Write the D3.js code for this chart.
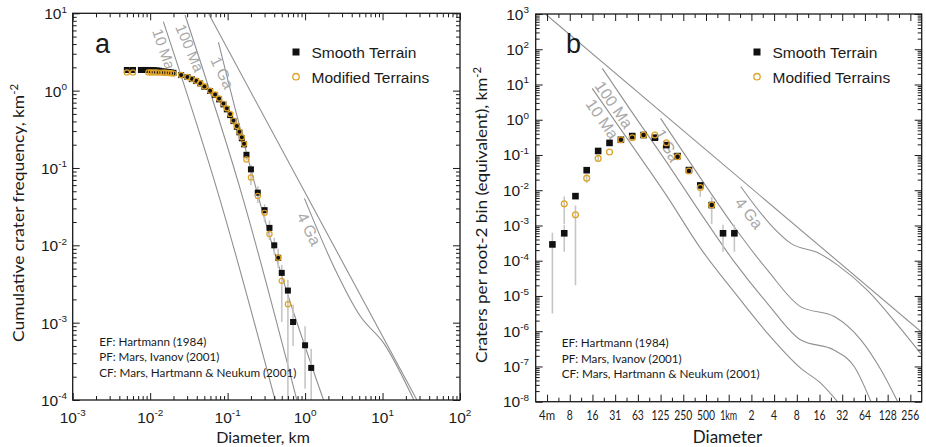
<!DOCTYPE html>
<html>
<head>
<meta charset="utf-8">
<script src="https://cdn.jsdelivr.net/npm/d3@7"></script>
<style>
  html, body { margin: 0; padding: 0; background: #fff; }
  svg { display: block; font-family: Lato, "Open Sans", sans-serif; }
  .hv { font-family: "Liberation Sans", Arial, sans-serif; }
</style>
</head>
<body>
<svg id="chart" width="926" height="447"></svg>
<script>
// ---------- Panel a: cumulative crater frequency (diameter in km, N per km²) ----------
const smoothCum = [
  [0.005,1.85],[0.006,1.85],
  [0.0076,1.85],[0.0082,1.85],[0.0088,1.85],[0.0094,1.85],[0.0100,1.84],[0.0107,1.84],[0.0114,1.83],
  [0.0122,1.82],[0.0130,1.81],[0.0140,1.78],[0.0150,1.76],[0.0160,1.75],[0.0172,1.74],[0.0185,1.72],[0.0200,1.70],
  [0.0251,1.59],[0.0303,1.50],[0.0345,1.41],[0.0392,1.33],[0.0442,1.24],[0.0501,1.12],[0.0594,0.99],
  [0.0689,0.877],[0.0776,0.771],[0.0883,0.665],[0.0977,0.573],[0.1077,0.483],[0.119,0.404],[0.1315,0.341],
  [0.142,0.289],[0.1524,0.242],[0.163,0.202],[0.175,0.148],[0.200,0.096],[0.245,0.048],[0.300,0.0285],
  [0.347,0.0168],[0.400,0.0100],[0.450,0.0069],[0.500,0.0044],[0.600,0.0026],[0.700,0.00102],
  [1.00,0.00051],[1.20,0.00026]
];
const modifiedCum = [
  [0.005,1.72],[0.006,1.72],
  [0.0095,1.72],[0.0102,1.72],[0.0110,1.72],[0.0119,1.72],[0.0128,1.71],[0.0139,1.71],[0.0150,1.70],
  [0.0160,1.70],[0.0173,1.69],[0.0186,1.68],[0.0200,1.66],
  [0.0251,1.59],[0.0303,1.50],[0.0345,1.42],[0.0392,1.34],[0.0442,1.25],[0.0501,1.13],[0.0594,1.00],
  [0.0689,0.89],[0.0776,0.79],[0.0883,0.68],[0.0977,0.59],[0.1077,0.50],[0.119,0.41],[0.1315,0.35],
  [0.142,0.295],[0.1524,0.25],[0.163,0.205],[0.175,0.129],[0.200,0.0755],[0.245,0.0434],[0.300,0.0263],
  [0.347,0.0140],[0.450,0.0069],[0.500,0.00347],[0.600,0.00173]
];
// [diameter, lower, upper]
const smoothCumErr = [
  [0.175,0.125,0.165],[0.200,0.080,0.110],[0.245,0.038,0.058],[0.300,0.020,0.034],[0.347,0.0117,0.021],
  [0.400,0.0075,0.0125],[0.450,0.0051,0.0090],[0.500,0.00102,0.0056],[0.600,0.00003,0.0036],
  [0.700,0.00050,0.0017],[1.00,0.00014,0.00090],[1.20,0.00003,0.00046]
];
const modifiedCumErr = [
  [0.200,0.060,0.090],[0.245,0.035,0.052]
];
// isochrons and saturation, diameter km vs N
const satA     = [[0.0565,10],[27.8,1e-4]];
const iso10MaA = [[0.0148,7.8],[0.080,0.0385],[0.41,1e-4]];
const iso100MaA= [[0.0282,9.5],[0.160,0.0385],[0.783,1e-4]];
const iso1GaA  = [[0.076,4.25],[0.265,0.034],[1.73,1e-4]];
const iso4GaA  = [[0.98,0.0405],[2.35,0.0053],[5.2,0.0012],[10.4,0.00054],[25.4,1e-4]];
const xExpA = [-3,-2,-1,0,1,2];
const yExpA = [1,0,-1,-2,-3,-4];

// ---------- Panel b: craters per root-2 bin (diameter in m) ----------
const binCenters  = [4.6,6.6,9.3,13.1,18.6,26.3,37.2,52.6,74.3,105,149,210,297,420,595,841,1189];
const smoothBin   = [2.9e-4,6.0e-4,6.8e-3,0.037,0.13,0.22,0.27,0.344,0.368,0.309,0.191,0.093,0.0373,0.0137,0.0038,6.0e-4,6.0e-4];
const modifiedBin = [null,4.1e-3,2.0e-3,0.022,0.08,0.121,0.271,0.309,0.368,0.368,0.223,0.089,0.035,0.012,0.0038,null,null];
const smoothBinErr = [
  [3.2e-6,6.2e-4],[1.8e-4,1.05e-3],null,null,null,null,null,null,null,null,null,null,
  [0.030,0.045],[6.5e-3,0.016],[1.1e-3,6.5e-3],[1.8e-4,1.05e-3],[1.8e-4,1.05e-3]
];
const modifiedBinErr = [
  null,[1.1e-3,6.6e-3],[2.0e-5,3.7e-3],[0.016,0.028],[0.065,0.10],null,null,null,null,null,null,null,null,null,null,null,null
];
const satB      = [[3.72,1000],[374400,8.8e-7]];
const iso10MaB  = [[15.5,7.76],[50,0.213],[154,6.5e-3],[426,2.2e-4],[1181,1.3e-5],[3272,8.7e-7],[9070,8.8e-8],[16720,3.3e-8],[27840,9.9e-9]];
const iso100MaB = [[21.1,28.7],[50,1.88],[154,0.058],[426,2.2e-3],[1181,9.4e-5],[3272,6.1e-6],[9070,5.6e-7],[25140,2.9e-7],[46340,9.8e-8],[77100,9.9e-9]];
const iso1GaB   = [[125,1.09],[426,0.0217],[1181,9.2e-4],[3272,5.4e-5],[9070,4.9e-6],[25140,2.6e-6],[56800,5.6e-7],[104700,7.9e-8],[174400,9.9e-9]];
const iso4GaB   = [[1448,0.0126],[3625,1.03e-3],[6681,3.1e-4],[15890,1.61e-4],[27840,7.5e-5],[69640,1.41e-5],[174400,1.49e-6],[374400,1.96e-7]];
const binTicks  = [3.90625,7.8125,15.625,31.25,62.5,125,250,500,1000,2000,4000,8000,16000,32000,64000,128000,256000];
const binLabels = ["4m","8","16","31","63","125","250","500","1km","2","4","8","16","32","64","128","256"];
const yExpB = [3,2,1,0,-1,-2,-3,-4,-5,-6,-7,-8];

const sources = ["EF: Hartmann (1984)","PF: Mars, Ivanov (2001)","CF: Mars, Hartmann & Neukum (2001)"];
const seriesNames = ["Smooth Terrain","Modified Terrains"];

// ---------- styling ----------
const INK = "#1a1a1a", CURVE = "#909090", LABEL = "#a9a9a9", ERR = "#c6c6c6", ORANGE = "#dea327";
const svg = d3.select("#chart");
const defs = svg.append("defs");

function logMinors(lo, hi) {
  const out = [];
  for (let e = lo; e < hi; e++) for (let m = 2; m <= 9; m++) out.push(m * Math.pow(10, e));
  return out;
}

function frameTicks(g, xs, ys, box, xMaj, xMin, yMaj, yMin) {
  const mk = (fn, scale, vals, size, tr) => {
    const a = g.append("g").attr("transform", tr)
      .call(fn(scale).tickValues(vals).tickSize(-size).tickFormat(""));
    a.select(".domain").remove();
    a.selectAll("line").attr("stroke", INK).attr("stroke-width", 1);
  };
  mk(d3.axisBottom, xs, xMaj, 7, `translate(0,${box.b})`);
  mk(d3.axisBottom, xs, xMin, 4, `translate(0,${box.b})`);
  mk(d3.axisTop, xs, xMaj, 7, `translate(0,${box.t})`);
  mk(d3.axisTop, xs, xMin, 4, `translate(0,${box.t})`);
  mk(d3.axisLeft, ys, yMaj, 7, `translate(${box.l},0)`);
  mk(d3.axisLeft, ys, yMin, 4, `translate(${box.l},0)`);
  mk(d3.axisRight, ys, yMaj, 7, `translate(${box.r},0)`);
  mk(d3.axisRight, ys, yMin, 4, `translate(${box.r},0)`);
  g.append("rect").attr("x", box.l).attr("y", box.t)
    .attr("width", box.r - box.l).attr("height", box.b - box.t)
    .attr("fill", "none").attr("stroke", INK).attr("stroke-width", 1.3);
}

function powLabel(g, x, y, exp, anchor, size) {
  const t = g.append("text").attr("class", "hv").attr("x", x).attr("y", y).attr("text-anchor", anchor)
    .attr("font-size", size).attr("fill", INK);
  t.append("tspan").text("10");
  t.append("tspan").attr("dy", -size * 0.42).attr("font-size", size * 0.64).text(exp);
}

function curves(g, xs, ys, list, clipId) {
  const line = d3.line().x(d => xs(d[0])).y(d => ys(d[1])).curve(d3.curveMonotoneX);
  g.append("g").attr("clip-path", `url(#${clipId})`)
    .selectAll("path").data(list).join("path")
    .attr("d", line).attr("fill", "none").attr("stroke", CURVE).attr("stroke-width", 1.1);
}

function isoLabel(g, xs, ys, pos, angle, text, size) {
  g.append("text").attr("class", "hv")
    .attr("transform", `translate(${xs(pos[0])},${ys(pos[1])}) rotate(${angle})`)
    .attr("font-size", size).attr("fill", LABEL).text(text);
}

function legend(g, x, ySq, yCirc, size, r) {
  g.append("rect").attr("x", x - size / 2).attr("y", ySq - size / 2)
    .attr("width", size).attr("height", size).attr("fill", "#111");
  g.append("circle").attr("cx", x).attr("cy", yCirc).attr("r", r)
    .attr("fill", "none").attr("stroke", ORANGE).attr("stroke-width", 1.3);
  g.append("text").attr("class", "hv").attr("x", x + 15.5).attr("y", ySq + 5.5)
    .attr("font-size", 15.5).attr("fill", INK).text(seriesNames[0]);
  g.append("text").attr("class", "hv").attr("x", x + 15.5).attr("y", yCirc + 6)
    .attr("font-size", 15.5).attr("fill", INK).text(seriesNames[1]);
}

function sourceNotes(g, x, y0, widths) {
  sources.forEach((s, i) => {
    g.append("text").attr("x", x).attr("y", y0 + i * 15.5)
      .attr("font-size", 12).attr("fill", INK)
      .attr("textLength", widths[i]).attr("lengthAdjust", "spacingAndGlyphs").text(s);
  });
}

// =============== Panel a ===============
{
  const box = { l: 72.7, r: 460, t: 13.3, b: 400 };
  const xs = d3.scaleLog().domain([1e-3, 1e2]).range([box.l, box.r]);
  const ys = d3.scaleLog().domain([1e-4, 10]).range([box.b, box.t]);
  defs.append("clipPath").attr("id", "clipA").append("rect")
    .attr("x", box.l).attr("y", box.t).attr("width", box.r - box.l).attr("height", box.b - box.t);
  const g = svg.append("g");

  curves(g, xs, ys, [satA, iso10MaA, iso100MaA, iso1GaA, iso4GaA], "clipA");
  isoLabel(g, xs, ys, [0.01058, 5.9], 71, "10 Ma", 15);
  isoLabel(g, xs, ys, [0.0210, 6.65], 67, "100 Ma", 15);
  isoLabel(g, xs, ys, [0.0594, 2.49], 64, "1 Ga", 15.5);
  isoLabel(g, xs, ys, [0.767, 0.0239], 63, "4 Ga", 16);

  const pts = g.append("g").attr("clip-path", "url(#clipA)");
  pts.selectAll("line.es").data(smoothCumErr).join("line").attr("class", "es")
    .attr("x1", d => xs(d[0])).attr("x2", d => xs(d[0]))
    .attr("y1", d => ys(d[1])).attr("y2", d => ys(d[2]))
    .attr("stroke", ERR).attr("stroke-width", 1.6);
  pts.selectAll("line.em").data(modifiedCumErr).join("line").attr("class", "em")
    .attr("x1", d => xs(d[0])).attr("x2", d => xs(d[0]))
    .attr("y1", d => ys(d[1])).attr("y2", d => ys(d[2]))
    .attr("stroke", ERR).attr("stroke-width", 1.6);
  pts.selectAll("rect").data(smoothCum).join("rect")
    .attr("x", d => xs(d[0]) - 3).attr("y", d => ys(d[1]) - 3)
    .attr("width", 6).attr("height", 6).attr("fill", "#111");
  pts.selectAll("circle").data(modifiedCum).join("circle")
    .attr("cx", d => xs(d[0])).attr("cy", d => ys(d[1])).attr("r", 2.6)
    .attr("fill", "none").attr("stroke", ORANGE).attr("stroke-width", 1.2);

  frameTicks(g, xs, ys, box,
    xExpA.map(e => Math.pow(10, e)), logMinors(-3, 2),
    yExpA.map(e => Math.pow(10, e)), logMinors(-4, 1));

  xExpA.forEach(e => powLabel(g, xs(Math.pow(10, e)), 422.5, String(e), "middle", 15.5));
  yExpA.forEach(e => powLabel(g, 67, ys(Math.pow(10, e)) + 6, String(e), "end", 15.5));

  g.append("text").attr("x", 263).attr("y", 442.5).attr("text-anchor", "middle")
    .attr("font-size", 16).attr("fill", INK).text("Diameter, km");
  const yt = g.append("text").attr("transform", `translate(24,${213}) rotate(-90)`)
    .attr("text-anchor", "middle").attr("font-size", 16).attr("fill", INK)
    .attr("textLength", 258).attr("lengthAdjust", "spacingAndGlyphs");
  yt.append("tspan").text("Cumulative crater frequency, km");
  yt.append("tspan").attr("dy", -6).attr("font-size", 10.5).text("-2");

  g.append("text").attr("class", "hv").attr("x", 95).attr("y", 53).attr("font-size", 27).attr("fill", INK).text("a");
  legend(g, 296, 52, 76.7, 7, 3.2);
  sourceNotes(g, 99.3, 345.7, [107, 120, 197]);
}

// =============== Panel b ===============
{
  const box = { l: 535.7, r: 921.7, t: 14, b: 401.7 };
  const xs = d3.scaleLog().base(2).domain([1000 * Math.pow(2, -8.5), 1000 * Math.pow(2, 8.5)]).range([box.l, box.r]);
  const ys = d3.scaleLog().domain([1e-8, 1e3]).range([box.b, box.t]);
  defs.append("clipPath").attr("id", "clipB").append("rect")
    .attr("x", box.l).attr("y", box.t).attr("width", box.r - box.l).attr("height", box.b - box.t);
  const g = svg.append("g");

  curves(g, xs, ys, [satB, iso10MaB, iso100MaB, iso1GaB, iso4GaB], "clipB");
  isoLabel(g, xs, ys, [16.4, 9.06], 55, "100 Ma", 16);
  isoLabel(g, xs, ys, [12.4, 2.79], 55, "10 Ma", 16);
  isoLabel(g, xs, ys, [102, 0.42], 61, "1 Ga", 16);
  isoLabel(g, xs, ys, [1175, 4.34e-3], 52, "4 Ga", 16);

  const pts = g.append("g").attr("clip-path", "url(#clipB)");
  const errS = binCenters.map((d, i) => smoothBinErr[i] ? [d, ...smoothBinErr[i]] : null).filter(Boolean);
  const errM = binCenters.map((d, i) => modifiedBinErr[i] ? [d, ...modifiedBinErr[i]] : null).filter(Boolean);
  pts.selectAll("line.eb").data(errS.concat(errM)).join("line").attr("class", "eb")
    .attr("x1", d => xs(d[0])).attr("x2", d => xs(d[0]))
    .attr("y1", d => ys(d[1])).attr("y2", d => ys(d[2]))
    .attr("stroke", ERR).attr("stroke-width", 1.6);
  const sPts = binCenters.map((d, i) => [d, smoothBin[i]]).filter(d => d[1] != null);
  const mPts = binCenters.map((d, i) => [d, modifiedBin[i]]).filter(d => d[1] != null);
  pts.selectAll("rect").data(sPts).join("rect")
    .attr("x", d => xs(d[0]) - 3.3).attr("y", d => ys(d[1]) - 3.3)
    .attr("width", 6.6).attr("height", 6.6).attr("fill", "#111");
  pts.selectAll("circle").data(mPts).join("circle")
    .attr("cx", d => xs(d[0])).attr("cy", d => ys(d[1])).attr("r", 2.9)
    .attr("fill", "none").attr("stroke", ORANGE).attr("stroke-width", 1.3);

  const halfSteps = binTicks.slice(0, -1).map(v => v * Math.SQRT2);
  frameTicks(g, xs, ys, box, binTicks, halfSteps,
    yExpB.map(e => Math.pow(10, e)), logMinors(-8, 3));

  // narrow labels so neighbouring bins stay legible
  binTicks.forEach((v, i) => g.append("text").attr("x", xs(v)).attr("y", 419.5)
    .attr("text-anchor", "middle").attr("font-size", 13).attr("fill", INK)
    .attr("textLength", binLabels[i] === "1km" ? 17 : binLabels[i] === "4m" ? 16 : binLabels[i].length * 6)
    .attr("lengthAdjust", "spacingAndGlyphs").text(binLabels[i]));
  yExpB.forEach(e => powLabel(g, 529, ys(Math.pow(10, e)) + 5.5, String(e), "end", 15.5));

  g.append("text").attr("x", 727.5).attr("y", 442.5).attr("text-anchor", "middle")
    .attr("font-size", 17).attr("fill", INK).text("Diameter");
  const yt = g.append("text").attr("transform", `translate(487,${215}) rotate(-90)`)
    .attr("text-anchor", "middle").attr("font-size", 16).attr("fill", INK)
    .attr("textLength", 296).attr("lengthAdjust", "spacingAndGlyphs");
  yt.append("tspan").text("Craters per root-2 bin (equivalent), km");
  yt.append("tspan").attr("dy", -6).attr("font-size", 10.5).text("-2");

  g.append("text").attr("class", "hv").attr("x", 566).attr("y", 53).attr("font-size", 27).attr("fill", INK).text("b");
  legend(g, 757, 52, 76.7, 7, 3.2);
  sourceNotes(g, 561.7, 347.3, [107, 120, 198]);
}
</script>
</body>
</html>
